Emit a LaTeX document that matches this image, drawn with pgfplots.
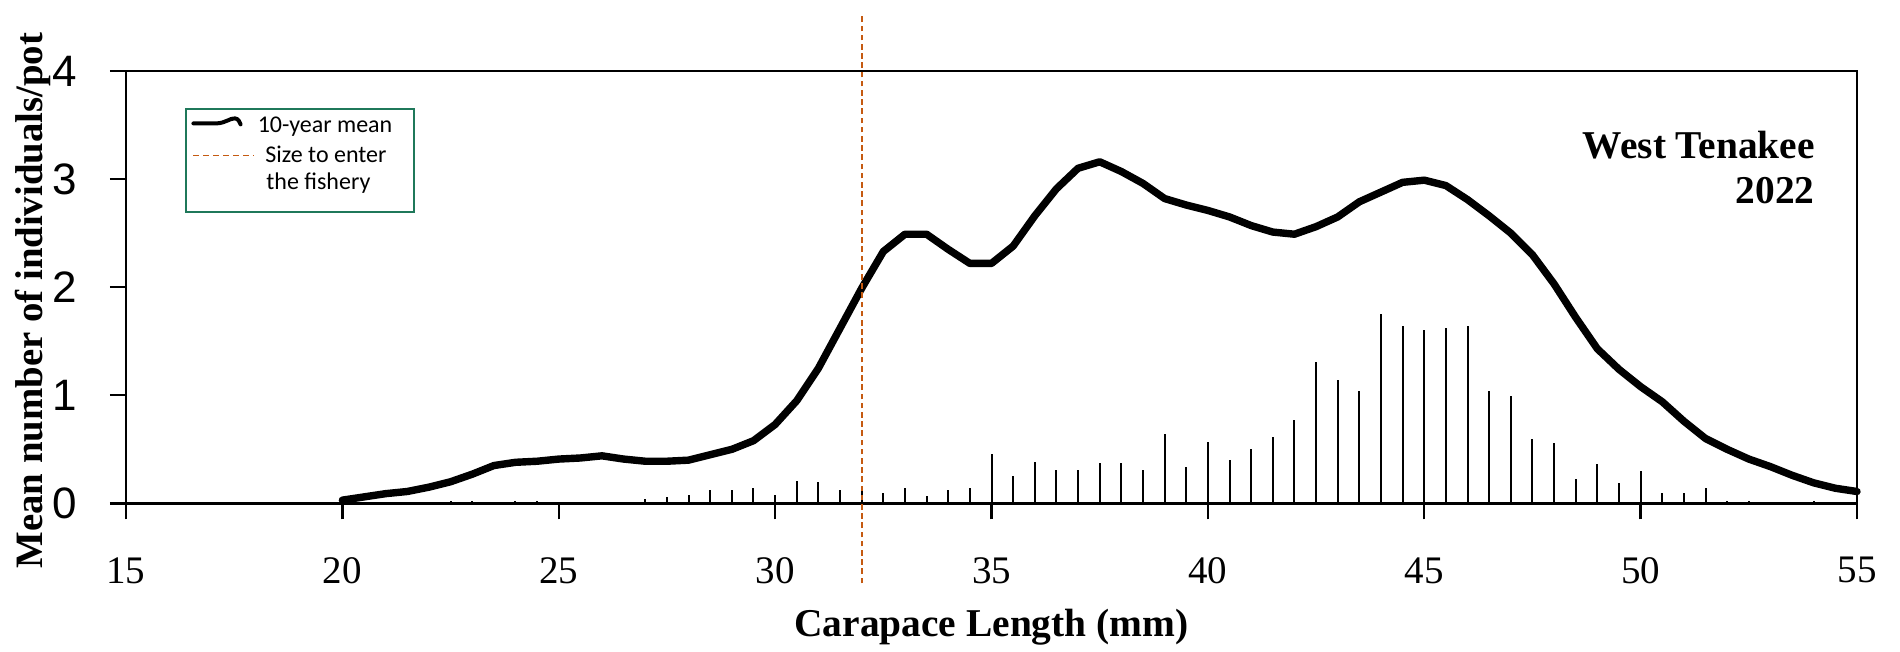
\documentclass[border=0pt]{standalone}
\usepackage{fontspec}
\setmainfont{Liberation Serif}
\newfontfamily\arialf{Liberation Sans}
\newfontfamily\calibrif{Carlito}
\usepackage{pgfplots}
\pgfplotsset{compat=1.18}
\definecolor{fishery}{RGB}{197,90,17}
\definecolor{legendgreen}{RGB}{31,120,90}

\pgfplotstableread{
x y
20 0.03
20.5 0.06
21 0.09
21.5 0.11
22 0.15
22.5 0.20
23 0.27
23.5 0.35
24 0.38
24.5 0.39
25 0.41
25.5 0.42
26 0.44
26.5 0.41
27 0.39
27.5 0.39
28 0.40
28.5 0.45
29 0.50
29.5 0.58
30 0.73
30.5 0.95
31 1.25
31.5 1.62
32 1.99
32.5 2.33
33 2.49
33.5 2.49
34 2.35
34.5 2.22
35 2.22
35.5 2.38
36 2.66
36.5 2.91
37 3.10
37.5 3.16
38 3.07
38.5 2.96
39 2.82
39.5 2.76
40 2.71
40.5 2.65
41 2.57
41.5 2.51
42 2.49
42.5 2.56
43 2.65
43.5 2.79
44 2.88
44.5 2.97
45 2.99
45.5 2.94
46 2.81
46.5 2.66
47 2.50
47.5 2.30
48 2.03
48.5 1.72
49 1.43
49.5 1.24
50 1.08
50.5 0.94
51 0.76
51.5 0.60
52 0.50
52.5 0.41
53 0.34
53.5 0.26
54 0.19
54.5 0.14
55 0.11
}\meantable

\pgfplotstableread{
x y
22.5 0.02
23 0.02
24 0.02
24.5 0.02
26 0.015
27 0.04
27.5 0.06
28 0.08
28.5 0.12
29 0.12
29.5 0.14
30 0.08
30.5 0.21
31 0.20
31.5 0.12
32 0.14
32.5 0.10
33 0.14
33.5 0.07
34 0.12
34.5 0.14
35 0.46
35.5 0.25
36 0.38
36.5 0.31
37 0.31
37.5 0.37
38 0.37
38.5 0.31
39 0.64
39.5 0.34
40 0.57
40.5 0.40
41 0.50
41.5 0.61
42 0.77
42.5 1.31
43 1.14
43.5 1.04
44 1.75
44.5 1.64
45 1.60
45.5 1.62
46 1.64
46.5 1.04
47 0.99
47.5 0.60
48 0.56
48.5 0.23
49 0.36
49.5 0.19
50 0.30
50.5 0.10
51 0.10
51.5 0.14
52 0.02
52.5 0.02
54 0.02
}\bartable

\begin{document}
\begin{tikzpicture}
\begin{axis}[
  scale only axis, width=865.5pt, height=216.2pt,
  xmin=15, xmax=55, ymin=0, ymax=4,
  xtick={15,20,25,30,35,40,45,50,55}, ytick={0,1,2,3,4},
  tick pos=left, tick align=outside, major tick length=8pt,
  axis line style={line width=1.2pt},
  tick style={black, line width=1.2pt},
  xticklabel style={font=\fontsize{19.5}{20}\selectfont, yshift=-15.5pt},
  yticklabel style={font=\arialf\fontsize{22}{24}\selectfont, xshift=-13pt},
  /pgf/number format/assume math mode=true,
  clip=false,
]
\addplot[ycomb, no marks, line width=1pt, black] table[x=x,y=y] {\bartable};
\addplot[no marks, line width=3.7pt, line join=round, line cap=round, black] table[x=x,y=y] {\meantable};
\addplot[no marks, fishery, line width=1.1pt, dash pattern=on 2.8pt off 1.8pt] coordinates {(32,-0.739) (32,4.536)};
\coordinate (TL) at (rel axis cs:0,1);
\coordinate (TR) at (rel axis cs:1,1);
\coordinate (BL) at (rel axis cs:0,0);
\coordinate (BC) at (rel axis cs:0.5,0);
\coordinate (YL) at (rel axis cs:0,0.469);
\end{axis}
% axis labels
\node[anchor=base, inner sep=0, font=\bfseries\fontsize{19.7}{22}\selectfont] at ([shift={(0pt,-66.8pt)}]BC) {Carapace Length (mm)};
\node[rotate=90, anchor=base, inner sep=0, font=\bfseries\fontsize{19.4}{22}\selectfont] at ([shift={(-41.5pt,0pt)}]YL) {Mean number of individuals/pot};
% title
\node[anchor=base east, inner sep=0, font=\bfseries\fontsize{19.7}{22}\selectfont] at ([shift={(-21pt,-43.7pt)}]TR) {West Tenakee};
\node[anchor=base east, inner sep=0, font=\bfseries\fontsize{19.7}{22}\selectfont] at ([shift={(-21pt,-66.2pt)}]TR) {2022};
% legend
\begin{scope}[shift={(TL)}]
\draw[legendgreen, line width=1pt] (29.85pt,-19pt) rectangle (144.2pt,-70.4pt);
\draw[line width=2pt, line cap=round] (33.7pt,-26.2pt) -- (45.3pt,-26.2pt) .. controls (50pt,-26pt) and (52pt,-23.5pt) .. (54.5pt,-23.7pt) .. controls (56pt,-23.8pt) and (57pt,-25.5pt) .. (57.3pt,-26.7pt);
\draw[fishery, line width=0.8pt, dash pattern=on 3pt off 2pt] (33.5pt,-42.3pt) -- (64pt,-42.3pt);
\node[anchor=base west, inner sep=0, font=\calibrif\fontsize{12}{14}\selectfont] at (65.7pt,-30.8pt) {10-year mean};
\node[anchor=base west, inner sep=0, font=\calibrif\fontsize{12}{14}\selectfont] at (69.5pt,-45.8pt) {Size to enter};
\node[anchor=base west, inner sep=0, font=\calibrif\fontsize{12}{14}\selectfont] at (70pt,-59.5pt) {the fishery};
\end{scope}
\pgfresetboundingbox
\path ([shift={(-63pt,-73.85pt)}]BL) rectangle ([shift={(21.5pt,35.5pt)}]TR);
\end{tikzpicture}
\end{document}
